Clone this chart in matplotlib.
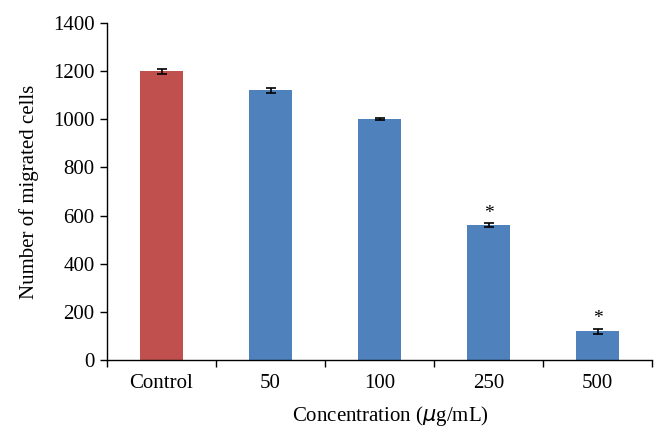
import numpy as np
import matplotlib
matplotlib.use('Agg')
import matplotlib.pyplot as plt

categories = ['Control', '50', '100', '250', '500']
values = [1200, 1120, 1000, 560, 120]
errors = [10, 12, 4, 8, 10]
significant = [False, False, False, True, True]

plt.rcParams['font.family'] = ['Liberation Serif', 'DejaVu Serif']

fig = plt.figure(figsize=(6.66, 4.4), dpi=100)
ax = fig.add_axes([107/666, 80/440, 545/666, 337/440])

x = np.arange(len(categories))
colors = ['#C0504D'] + ['#4F81BD'] * (len(categories) - 1)
ax.bar(x, values, width=0.4, color=colors, edgecolor='none')
ax.errorbar(x, values, yerr=errors, fmt='none', ecolor='black',
            elinewidth=1.2, capsize=3.5, capthick=1.2)
for xi, v, e, s in zip(x, values, errors, significant):
    if s:
        ax.text(xi, v + e + 6, '*', ha='center', va='bottom', fontsize=14)

ax.set_xlim(-0.5, len(categories) - 0.5)
ax.set_ylim(0, 1400)
ax.set_yticks(np.arange(0, 1401, 200))
ax.set_xticks(x)
ax.set_xticklabels(categories)
ax.set_xticks(np.arange(-0.5, len(categories)), minor=True)
ax.tick_params(axis='x', which='major', length=0, labelsize=15, pad=10)
ax.tick_params(axis='x', which='minor', length=5, width=1, direction='out')
ax.tick_params(axis='y', length=5, width=1, direction='out', labelsize=15, pad=4)
for s in ['top', 'right']:
    ax.spines[s].set_visible(False)
ax.spines['left'].set_linewidth(1)
ax.spines['bottom'].set_linewidth(1)

ax.set_xlabel('Concentration ($\\mu$g/mL)', fontsize=15, labelpad=7)
ax.set_ylabel('Number of migrated cells', fontsize=15, labelpad=10)
ax.xaxis.set_label_coords(0.52, -0.13)

fig.savefig('out.png', dpi=100)
